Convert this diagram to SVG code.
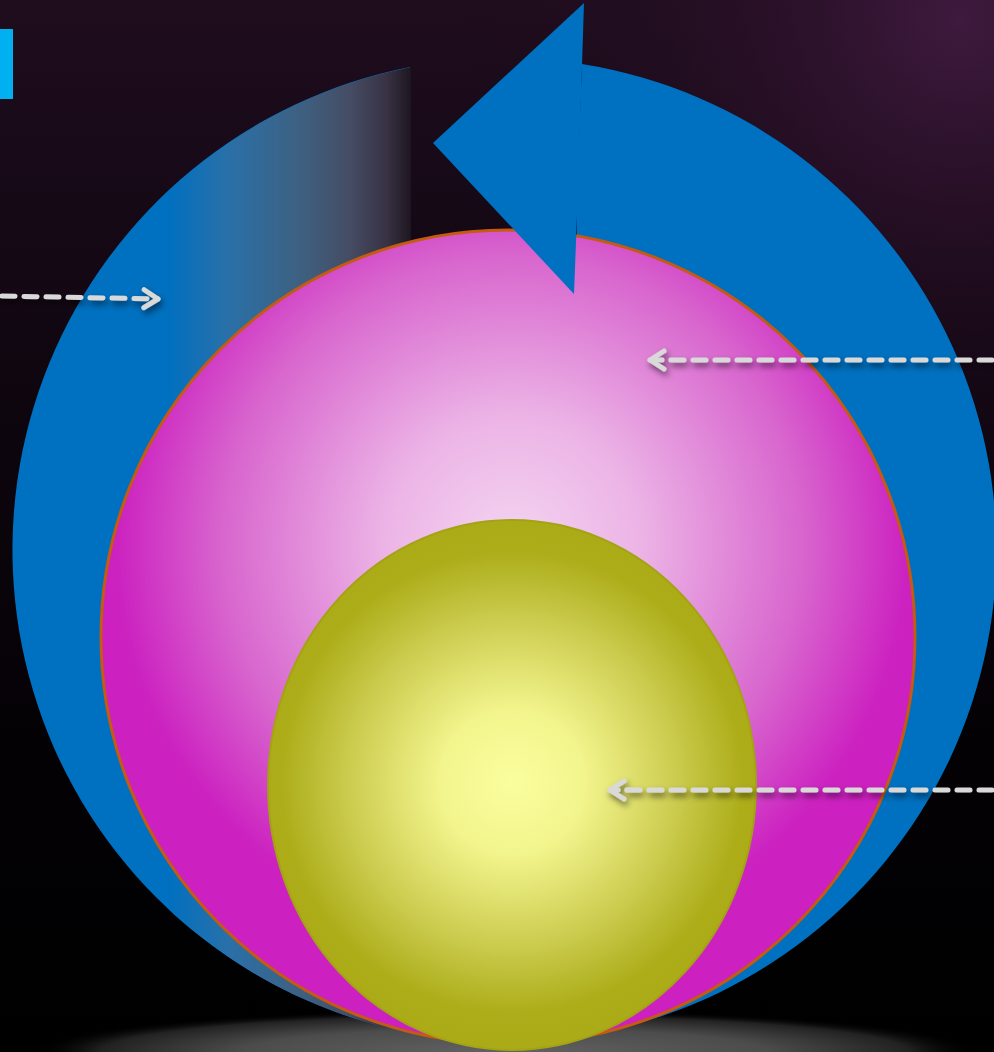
<svg xmlns="http://www.w3.org/2000/svg" width="994" height="1052" viewBox="0 0 994 1052">
<defs>
<linearGradient id="bg" x1="0" y1="0" x2="0" y2="1">
<stop offset="0" stop-color="#1f0d1e"/>
<stop offset="0.35" stop-color="#0f0610"/>
<stop offset="0.75" stop-color="#030104"/>
<stop offset="1" stop-color="#000000"/>
</linearGradient>
<radialGradient id="glowTR" cx="960" cy="20" r="520" gradientUnits="userSpaceOnUse">
<stop offset="0" stop-color="#3e1a3e" stop-opacity="1"/>
<stop offset="0.5" stop-color="#2a1028" stop-opacity="0.5"/>
<stop offset="1" stop-color="#1a0818" stop-opacity="0"/>
</radialGradient>
<radialGradient id="floor" cx="505" cy="1052" r="475" gradientUnits="userSpaceOnUse" gradientTransform="translate(0 1052) scale(1 0.09) translate(0 -1052)">
<stop offset="0" stop-color="#626262"/>
<stop offset="0.55" stop-color="#4c4c4c"/>
<stop offset="0.85" stop-color="#222222"/>
<stop offset="1" stop-color="#000" stop-opacity="0"/>
</radialGradient>
<linearGradient id="fade" x1="168" y1="0" x2="411" y2="0" gradientUnits="userSpaceOnUse">
<stop offset="0" stop-color="#0070c0"/>
<stop offset="0.25" stop-color="#2a70a8"/>
<stop offset="0.55" stop-color="#3e6080"/>
<stop offset="0.75" stop-color="#454c64"/>
<stop offset="0.9" stop-color="#383244"/>
<stop offset="1" stop-color="#1e161f"/>
</linearGradient>
<radialGradient id="pinkG" cx="512" cy="545" r="425" gradientUnits="userSpaceOnUse">
<stop offset="0" stop-color="#f4d4f1"/>
<stop offset="0.3" stop-color="#ecb4e6"/>
<stop offset="0.68" stop-color="#d866ce"/>
<stop offset="0.93" stop-color="#cc22c0"/>
<stop offset="1" stop-color="#cc20c0"/>
</radialGradient>
<radialGradient id="yelG" cx="512" cy="782" r="262" gradientUnits="userSpaceOnUse">
<stop offset="0" stop-color="#fbfe9e"/>
<stop offset="0.28" stop-color="#f2f48c"/>
<stop offset="0.62" stop-color="#cccc50"/>
<stop offset="0.88" stop-color="#adad1a"/>
<stop offset="1" stop-color="#abab18"/>
</radialGradient>
<clipPath id="circClip"><circle cx="505" cy="550" r="492"/></clipPath>
<filter id="sh" x="-10%" y="-50%" width="120%" height="250%">
<feDropShadow dx="2" dy="4" stdDeviation="3" flood-color="#000" flood-opacity="0.55"/>
</filter>
<marker id="chev" viewBox="0 0 20 24" refX="17" refY="12" markerWidth="20" markerHeight="24" markerUnits="userSpaceOnUse" orient="auto">
<polyline points="3,3 17,12 3,21" fill="none" stroke="#d9d9d9" stroke-width="5" stroke-linecap="round" stroke-linejoin="round"/>
</marker>
<style>
.dash{fill:none;stroke:#d9d9d9;stroke-width:5;stroke-dasharray:13 9;stroke-linecap:round;}
</style>
</defs>
<rect width="994" height="1052" fill="url(#bg)"/>
<rect width="994" height="1052" fill="url(#glowTR)"/>
<rect x="0" y="990" width="994" height="62" fill="url(#floor)"/>
<rect x="0" y="29" width="13" height="70" fill="#00b0f0"/>

<g id="cycle-arrow">
<path d="M582,64 A492,492 0 1 1 410,67 L410,300 L577,300 L577,190 Z" fill="#0070c0"/>
<rect x="168" y="0" width="243" height="1052" fill="url(#fade)" clip-path="url(#circClip)"/>
</g>
<g id="outer-circle">
<circle cx="508" cy="637" r="407" fill="url(#pinkG)" stroke="#c55a11" stroke-width="3"/>
</g>
<g id="arrow-head">
<polygon points="584,3 433,143 574,294 578,190" fill="#0070c0"/>
</g>
<g id="inner-circle">
<ellipse cx="512" cy="785" rx="244" ry="265" fill="url(#yelG)" stroke="#a3a314" stroke-width="2"/>
</g>
<g id="connectors" filter="url(#sh)">
<path class="dash" d="M2,296 L158,299" marker-end="url(#chev)"/>
<path class="dash" d="M992,360 L650,360" marker-end="url(#chev)"/>
<path class="dash" d="M992,790 L610,790" marker-end="url(#chev)"/>
</g>
</svg>
